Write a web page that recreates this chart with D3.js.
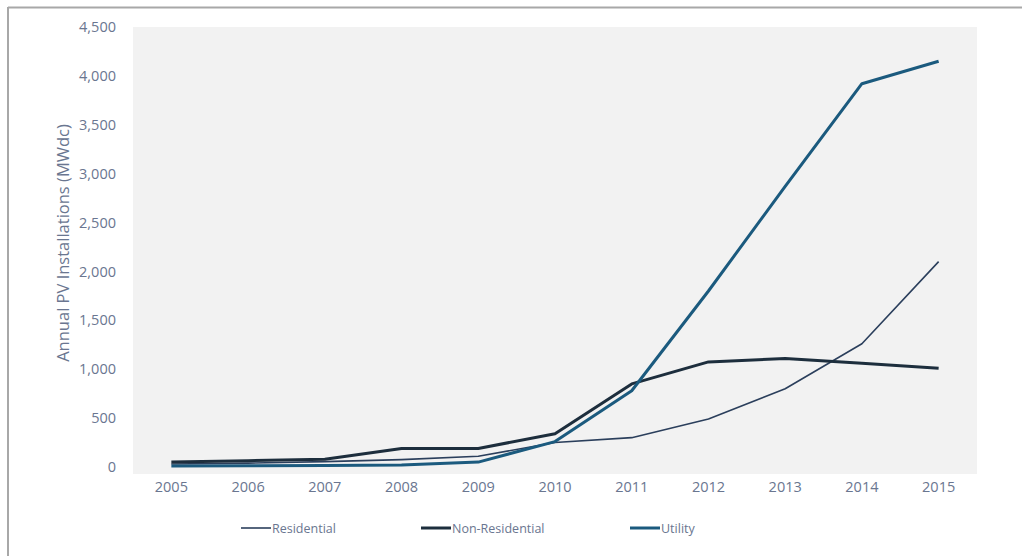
<!DOCTYPE html>
<html>
<head>
<meta charset="utf-8">
<script src="https://cdn.jsdelivr.net/npm/d3@7"></script>
<style>
  body { margin: 0; background: #fff; }
  text { font-family: "Open Sans", sans-serif; }
</style>
</head>
<body>
<div id="chart"></div>
<script>
// Chart data
var years = ["2005", "2006", "2007", "2008", "2009", "2010", "2011", "2012", "2013", "2014", "2015"];
var residential = [30, 40, 55, 75, 110, 250, 300, 490, 800, 1260, 2100];
var nonResidential = [50, 65, 80, 190, 190, 340, 850, 1075, 1110, 1060, 1010];
var utility = [10, 12, 15, 20, 50, 260, 780, 1800, 2870, 3920, 4150];
var yTicks = [0, 500, 1000, 1500, 2000, 2500, 3000, 3500, 4000, 4500];

var series = [
  { name: "Residential", values: residential, color: "#2b3f5c", width: 1.6, legendX: 241 },
  { name: "Non-Residential", values: nonResidential, color: "#1d2e3d", width: 3, legendX: 421 },
  { name: "Utility", values: utility, color: "#1b5a7e", width: 3, legendX: 630 }
];

var svgWidth = 1022;
var svgHeight = 556;
var margin = { top: 27, right: 45, bottom: 89, left: 133 };
var width = svgWidth - margin.left - margin.right;
var height = svgHeight - margin.top - margin.bottom;

var svg = d3.select("#chart")
  .append("svg")
  .attr("width", svgWidth)
  .attr("height", svgHeight);

// frame lines
svg.append("line")
  .attr("x1", 8).attr("x2", svgWidth).attr("y1", 7.5).attr("y2", 7.5)
  .attr("stroke", "#a8a8a8").attr("stroke-width", 2);
svg.append("line")
  .attr("x1", 8).attr("x2", 8).attr("y1", 7).attr("y2", svgHeight)
  .attr("stroke", "#a8a8a8").attr("stroke-width", 2);

var chartGroup = svg.append("g")
  .attr("transform", `translate(${margin.left}, ${margin.top})`);

// plot background
chartGroup.append("rect")
  .attr("x", 0).attr("y", 0)
  .attr("width", width).attr("height", height + 7)
  .attr("fill", "#f2f2f2");

var xScale = d3.scaleBand()
  .domain(years)
  .range([0, width]);

var yScale = d3.scaleLinear()
  .domain([0, 4500])
  .range([height, 0]);

// axes
var bottomAxis = d3.axisBottom(xScale).tickSize(0).tickPadding(8);
var leftAxis = d3.axisLeft(yScale).tickValues(yTicks).tickSize(0).tickPadding(17)
  .tickFormat(d3.format(","));

var xAxisG = chartGroup.append("g")
  .attr("transform", `translate(0, ${height + 7})`)
  .call(bottomAxis);
var yAxisG = chartGroup.append("g")
  .call(leftAxis);

[xAxisG, yAxisG].forEach(function(g) {
  g.select(".domain").remove();
  g.selectAll("text")
    .attr("fill", "#6a7690")
    .style("font-size", "14.5px")
    .style("font-family", "'Open Sans', sans-serif");
});

// lines
var line = d3.line()
  .x(function(d, i) { return xScale(years[i]) + xScale.bandwidth() / 2; })
  .y(function(d) { return yScale(d); });

series.forEach(function(s) {
  chartGroup.append("path")
    .datum(s.values)
    .attr("fill", "none")
    .attr("stroke", s.color)
    .attr("stroke-width", s.width)
    .attr("stroke-linejoin", "round")
    .attr("d", line);
});

// axis title
chartGroup.append("text")
  .attr("transform", "rotate(-90)")
  .attr("x", -216)
  .attr("y", -64)
  .attr("text-anchor", "middle")
  .attr("fill", "#6a7690")
  .style("font-size", "16.5px")
  .text("Annual PV Installations (MWdc)");

// legend
var legend = svg.append("g");
series.forEach(function(s) {
  legend.append("line")
    .attr("x1", s.legendX).attr("x2", s.legendX + 30)
    .attr("y1", 528).attr("y2", 528)
    .attr("stroke", s.color)
    .attr("stroke-width", s.width);
  legend.append("text")
    .attr("x", s.legendX + 31)
    .attr("y", 533)
    .attr("fill", "#6a7690")
    .style("font-size", "12.5px")
    .text(s.name);
});
</script>
</body>
</html>
